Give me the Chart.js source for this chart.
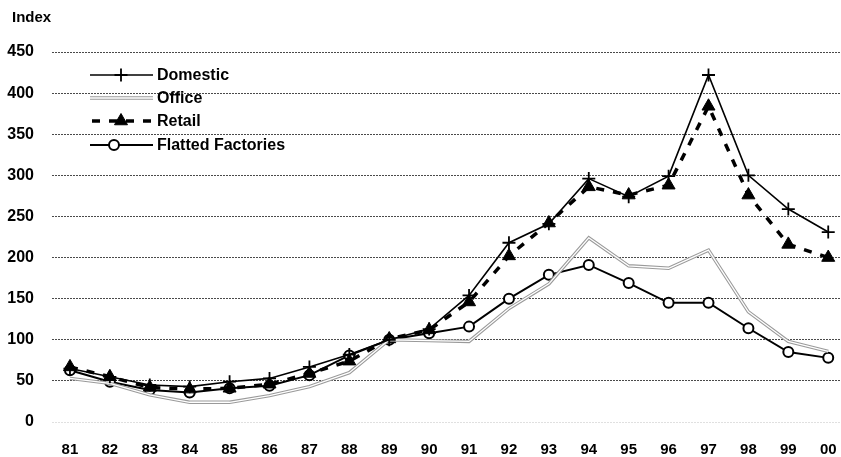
<!DOCTYPE html>
<html>
<head>
<meta charset="utf-8">
<script src="https://cdn.jsdelivr.net/npm/chart.js@4.4.0/dist/chart.umd.min.js"></script>
<style>
html,body{margin:0;padding:0;background:#fff;}
#wrap{position:relative;width:841px;height:457px;}
</style>
</head>
<body>
<div id="wrap"><canvas id="c" width="841" height="457"></canvas></div>
<script>
const categories = ['81','82','83','84','85','86','87','88','89','90','91','92','93','94','95','96','97','98','99','00'];
const domestic = [65, 55, 45, 43, 49, 53, 67, 82, 100, 113, 154, 218, 241, 296, 274, 299, 422, 300, 259, 231];
const office   = [53, 47, 33, 24, 24, 32, 43, 60, 100, 99, 98, 138, 168, 224, 190, 187, 209, 134, 98, 86];
const retail   = [67, 55, 42, 40, 41, 46, 59, 74, 101, 112, 146, 202, 242, 286, 276, 288, 384, 276, 216, 200];
const factories= [63, 49, 39, 36, 41, 44, 57, 81, 100, 108, 116, 150, 179, 191, 169, 145, 145, 114, 85, 78];
const yTicks = [0, 50, 100, 150, 200, 250, 300, 350, 400, 450];
const yTitle = 'Index';

const FONT = '"Liberation Sans", Arial, Helvetica, sans-serif';
const pts = arr => arr.map((v, i) => ({x: i, y: v}));

const datasets = [
  {label: 'Domestic', data: pts(domestic), borderColor: '#000', borderWidth: 1.6,
   pointStyle: 'cross', pointRadius: 6.5, pointBorderWidth: 1.8, pointBorderColor: '#000', pointBackgroundColor: '#000', tension: 0},
  {label: 'Office', data: pts(office), borderColor: '#9a9a9a', borderWidth: 3.4,
   pointRadius: 0, tension: 0, doubleLine: true},
  {label: 'Retail', data: pts(retail), borderColor: '#000', borderWidth: 3.5, borderDash: [8, 9],
   pointStyle: 'triangle', pointRadius: 7.5, pointBorderWidth: 1, pointBorderColor: '#000', pointBackgroundColor: '#000', tension: 0},
  {label: 'Flatted Factories', data: pts(factories), borderColor: '#000', borderWidth: 2,
   pointStyle: 'circle', pointRadius: 5, pointBorderWidth: 2, pointBorderColor: '#000', pointBackgroundColor: '#fff', tension: 0}
];

const doubleLinePlugin = {
  id: 'doubleLine',
  afterDatasetDraw(chart, args) {
    const ds = chart.data.datasets[args.index];
    if (!ds.doubleLine) return;
    const meta = args.meta;
    const ctx = chart.ctx;
    ctx.save();
    ctx.strokeStyle = '#fff';
    ctx.lineWidth = 1.3;
    ctx.lineJoin = 'miter';
    ctx.beginPath();
    meta.data.forEach((p, i) => { if (i === 0) ctx.moveTo(p.x, p.y); else ctx.lineTo(p.x, p.y); });
    ctx.stroke();
    ctx.restore();
  }
};

const legendPlugin = {
  id: 'customLegend',
  afterDraw(chart) {
    const ctx = chart.ctx;
    ctx.save();
    ctx.fillStyle = '#000';
    ctx.font = 'bold 15px ' + FONT;
    ctx.textBaseline = 'middle';
    ctx.textAlign = 'left';
    ctx.fillText(yTitle, 12, 18);
    const rows = [75, 98, 121, 145];
    const x0 = 90, x1 = 153, tx = 157;
    chart.data.datasets.forEach((ds, i) => {
      const y = rows[i];
      ctx.save();
      ctx.strokeStyle = ds.borderColor;
      ctx.lineWidth = ds.borderWidth;
      ctx.setLineDash(ds.borderDash || []);
      if (ds.borderDash) ctx.lineDashOffset = -2;
      ctx.beginPath(); ctx.moveTo(x0, y); ctx.lineTo(x1, y); ctx.stroke();
      if (ds.doubleLine) {
        ctx.strokeStyle = '#fff'; ctx.lineWidth = 1.3; ctx.setLineDash([]);
        ctx.beginPath(); ctx.moveTo(x0, y); ctx.lineTo(x1, y); ctx.stroke();
      }
      ctx.restore();
      if (ds.pointRadius > 0) {
        const mx = ds.pointStyle === 'circle' ? 114 : 121;
        ctx.save();
        ctx.strokeStyle = ds.pointBorderColor;
        ctx.fillStyle = ds.pointBackgroundColor;
        ctx.lineWidth = ds.pointBorderWidth;
        Chart.helpers.drawPoint(ctx, {pointStyle: ds.pointStyle, radius: ds.pointRadius, borderWidth: ds.pointBorderWidth, rotation: 0}, mx, y);
        ctx.restore();
      }
      ctx.fillStyle = '#000';
      ctx.font = 'bold 16px ' + FONT;
      ctx.textBaseline = 'middle';
      ctx.fillText(ds.label, tx, y + 1);
    });
    ctx.restore();
  }
};

new Chart(document.getElementById('c'), {
  type: 'line',
  data: {datasets},
  options: {
    responsive: false,
    animation: false,
    devicePixelRatio: 1,
    layout: {autoPadding: false, padding: {top: 52, left: 0, right: 0, bottom: 0}},
    plugins: {legend: {display: false}, tooltip: {enabled: false}, title: {display: false}},
    elements: {line: {borderCapStyle: 'butt', borderJoinStyle: 'miter'}},
    scales: {
      x: {
        type: 'linear',
        min: -0.45,
        max: 19.32,
        afterBuildTicks: s => { s.ticks = categories.map((c, i) => ({value: i})); },
        afterFit: s => { s.height = 35; s.paddingLeft = 0; s.paddingRight = 0; },
        grid: {display: false, drawTicks: false},
        border: {display: false},
        ticks: {
          autoSkip: false, maxRotation: 0, padding: 19, color: '#000',
          font: {family: FONT, size: 15, weight: 'bold'},
          callback: v => categories[v]
        }
      },
      y: {
        min: 0, max: 450,
        afterBuildTicks: s => { s.ticks = yTicks.map(v => ({value: v})); },
        afterFit: s => { s.width = 52; },
        grid: {
          drawTicks: false,
          color: c => (c.tick && c.tick.value === 0) ? 'rgba(0,0,0,0.12)' : '#4a4a4a',
          lineWidth: 1
        },
        border: {display: false, dash: [2, 1]},
        ticks: {padding: 18, color: '#000', font: {family: FONT, size: 16, weight: 'bold'}}
      }
    }
  },
  plugins: [doubleLinePlugin, legendPlugin]
});
</script>
</body>
</html>
